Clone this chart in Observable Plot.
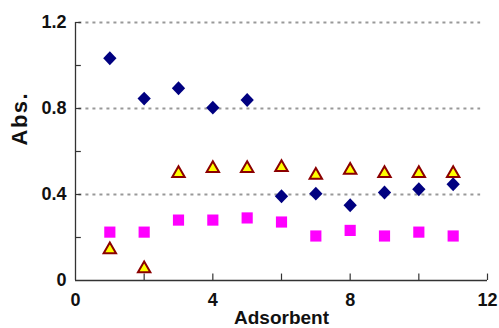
<!DOCTYPE html>
<html><head><meta charset="utf-8">
<script src="https://cdn.jsdelivr.net/npm/d3@7"></script>
<script src="https://cdn.jsdelivr.net/npm/@observablehq/plot@0.6"></script>
<style>
body{margin:0;background:#fff;}
#chart svg{font-family:"Liberation Sans",Arial,sans-serif;}
#chart svg text{font-weight:bold;}
#chart svg .abs text{letter-spacing:1.5px;}
</style></head>
<body><div id="chart"></div>
<script>
const adsorbent = [1,2,3,4,5,6,7,8,9,10,11];
const seriesDiamond = [1.034,0.846,0.894,0.804,0.840,0.392,0.404,0.350,0.409,0.424,0.448];
const seriesTriangle = [0.143,0.055,0.498,0.521,0.521,0.526,0.490,0.513,0.498,0.498,0.498];
const seriesSquare = [0.225,0.225,0.281,0.281,0.291,0.272,0.207,0.233,0.207,0.225,0.207];
const yLabelTicks = [0,0.4,0.8,1.2];
const yAllTicks = [0.2,0.4,0.6,0.8,1.0,1.2];
const xLabelTicks = [0,4,8,12];
const xAllTicks = [2,4,6,8,10,12];
const gridValues = [0.4,0.8,1.2];

const diamond = {draw(ctx, size){const r=Math.sqrt(size/2);ctx.moveTo(0,-r*1.05);ctx.lineTo(r,0);ctx.lineTo(0,r*1.05);ctx.lineTo(-r,0);ctx.closePath();}};

const mk = (ys) => adsorbent.map((x,i)=>({x, y: ys[i]}));

const chart = Plot.plot({
  width: 499, height: 328,
  marginLeft: 75, marginRight: 12, marginTop: 22, marginBottom: 48,
  x: {domain:[0,12], label:null, axis:null},
  y: {domain:[0,1.2], label:null, axis:null},
  style: {fontSize:"18px", fontWeight:"bold", color:"#111"},
  marks: [
    Plot.ruleY(gridValues, {x1: 0.1, x2: 11.8, stroke:"#999", strokeWidth:2, strokeDasharray:"3,4"}),
    Plot.ruleX([0], {stroke:"#333", strokeWidth:1.3}),
    Plot.ruleY([0], {stroke:"#333", strokeWidth:1.3}),
    Plot.ruleY(yAllTicks, {x1:0, x2:0.17, stroke:"#333", strokeWidth:1.2}),
    Plot.ruleX(xAllTicks, {y1:0, y2:0.03, stroke:"#333", strokeWidth:1.2}),
    Plot.text(yLabelTicks, {x:0, y:d=>d, text:d=> d===0?"0":d3.format(".1f")(d), textAnchor:"end", dx:-9, fontSize:18, fill:"#111"}),
    Plot.text(xLabelTicks, {x:d=>d, y:0, text:d=>String(d), dy:20, fontSize:18, fill:"#111"}),
    Plot.text(["Abs."], {frameAnchor:"left", dx:-56, dy:-6, rotate:-90, fontSize:22, fill:"#111", className:"abs"}),
    Plot.text(["Adsorbent"], {frameAnchor:"bottom", dy:43, fontSize:19, fill:"#111"}),
    Plot.dot(mk(seriesDiamond), {x:"x", y:"y", symbol: diamond, r:5.3, fill:"#000080", stroke:"none"}),
    Plot.dot(mk(seriesSquare), {x:"x", y:"y", symbol:"square", r:6.3, fill:"#ff00ff", stroke:"none"}),
    Plot.dot(mk(seriesTriangle), {x:"x", y:"y", symbol:"triangle", r:4.6, fill:"#ffff00", stroke:"#8b0000", strokeWidth:2})
  ]
});
document.getElementById("chart").append(chart);
</script></body></html>
